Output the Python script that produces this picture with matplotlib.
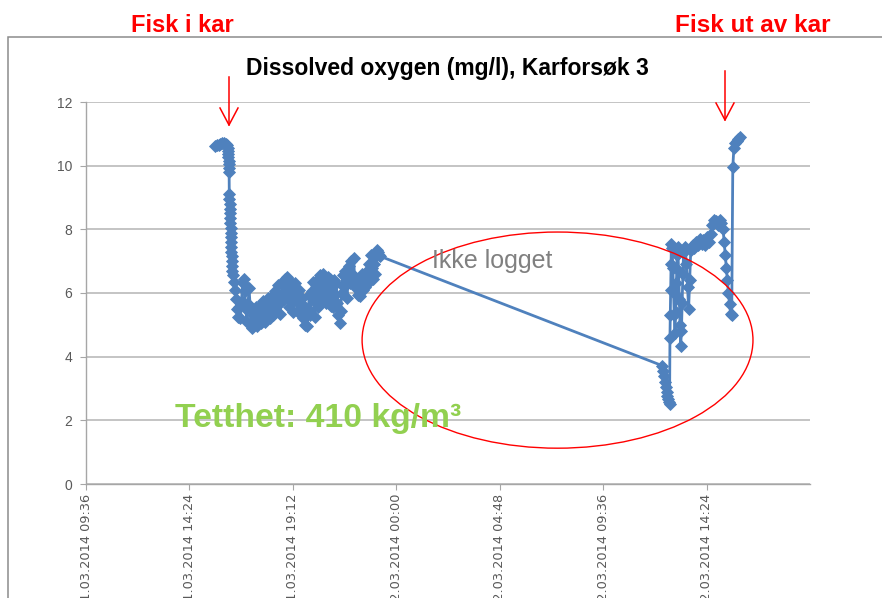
import matplotlib
matplotlib.use("Agg")
import matplotlib.pyplot as plt
import matplotlib.dates as mdates
from matplotlib.patches import Ellipse, Rectangle
from matplotlib.lines import Line2D
import pandas as pd

W, H = 882, 598
BLUE = "#4F81BD"

# målinger 11.03.2014 (fisk i kar -> logging stopper)
day1_times = [
    "15:35", "15:40", "15:45", "15:50", "15:55", "16:00", "16:05", "16:10",
    "16:11:00", "16:11:30", "16:12:00", "16:12:30", "16:13:00", "16:13:30", "16:14:00", "16:14:30",
    "16:15:00", "16:15:30", "16:16:00", "16:16:30", "16:17:00", "16:17:30", "16:18:00", "16:18:30",
    "16:19:00", "16:19:30", "16:20:00", "16:20:30", "16:21:00", "16:21:30", "16:22:00", "16:22:30",
    "16:23:00",
    "16:25", "16:28", "16:31", "16:34", "16:37", "16:40", "16:43", "16:46", "16:49", "16:52",
    "16:55", "16:58", "17:01", "17:04", "17:07", "17:10", "17:13", "17:16", "17:19", "17:22",
    "17:25", "17:28", "17:31", "17:34", "17:37", "17:40", "17:43", "17:46", "17:49", "17:52",
    "17:55", "17:58", "18:01", "18:04", "18:07", "18:10", "18:13", "18:16", "18:19", "18:22",
    "18:25", "18:28", "18:31", "18:34", "18:37", "18:40", "18:43", "18:46", "18:49", "18:52",
    "18:55", "18:58", "19:01", "19:04", "19:07", "19:10", "19:13", "19:16", "19:19", "19:22",
    "19:25", "19:28", "19:31", "19:34", "19:37", "19:40", "19:43", "19:46", "19:49", "19:52",
    "19:55", "19:58", "20:01", "20:04", "20:07", "20:10", "20:13", "20:16", "20:19", "20:22",
    "20:25", "20:28", "20:31", "20:34", "20:37", "20:40", "20:43", "20:46", "20:49", "20:52",
    "20:55", "20:58", "21:01", "21:04", "21:07", "21:10", "21:13", "21:16", "21:19", "21:22",
    "21:25", "21:28", "21:31", "21:34", "21:37", "21:40", "21:43", "21:46", "21:49", "21:52",
    "21:55", "21:58", "22:01", "22:04", "22:07", "22:10", "22:13", "22:16", "22:19", "22:22",
    "22:25", "22:28", "22:31", "22:34", "22:37", "22:40", "22:43", "22:46", "22:49", "22:52",
    "22:55", "22:58", "23:01", "23:04", "23:07", "23:10", "23:13", "23:16",
]
day1_do = [
    10.62, 10.64, 10.66, 10.68, 10.70, 10.70, 10.68, 10.64,
    10.55, 10.45, 10.36, 10.26, 10.15, 10.04, 9.92, 9.80,
    9.10, 8.95, 8.80, 8.65, 8.50, 8.35, 8.20, 8.05,
    7.90, 7.75, 7.60, 7.45, 7.30, 7.15, 7.00, 6.85,
    6.70,
    6.55, 6.35, 6.10, 5.80, 5.50, 5.25, 5.55, 5.20, 5.75, 6.30,
    6.45, 6.05, 5.50, 5.10, 5.65, 6.15, 5.60, 5.05, 4.90, 5.30,
    5.00, 5.55, 4.95, 5.40, 5.20, 5.60, 5.05, 5.45, 5.75, 5.25,
    5.10, 5.70, 5.35, 5.85, 5.20, 5.60, 5.90, 5.30, 5.75, 6.05,
    5.40, 5.95, 6.25, 5.65, 5.35, 5.90, 6.30, 5.80, 6.45, 6.10,
    6.50, 5.85, 5.55, 6.20, 6.35, 5.70, 5.40, 5.95, 6.30, 5.80,
    5.45, 6.10, 5.65, 5.30, 5.85, 5.20, 5.60, 5.00, 5.40, 4.95,
    5.50, 5.95, 5.30, 6.05, 6.35, 5.75, 5.25, 5.85, 6.40, 5.55,
    6.10, 6.55, 5.80, 6.30, 6.60, 5.95, 5.70, 6.25, 6.50, 5.90,
    6.45, 5.60, 6.20, 5.55, 6.40, 5.95, 6.30, 5.70, 5.30, 5.05,
    5.45, 6.00, 6.55, 6.20, 6.70, 6.35, 5.85, 6.50, 6.85, 6.30,
    7.00, 6.60, 7.10, 6.50, 6.15, 6.45, 5.95, 6.30, 5.90, 6.25,
    6.60, 6.10, 6.40, 6.20, 6.65, 6.30, 6.90, 6.55, 7.20, 6.80,
    6.45, 6.90, 6.60, 7.15, 7.35, 7.30, 7.20, 7.15,
]

# målinger 12.03.2014 (logging starter igjen -> fisk ut av kar)
day2_times = [
    "12:20", "12:23", "12:26", "12:29", "12:31", "12:33", "12:35", "12:37", "12:39", "12:41",
    "12:42", "12:43", "12:44", "12:45", "12:46", "12:48", "12:50", "12:52", "12:54", "12:56",
    "12:58", "13:00", "13:02", "13:04", "13:06", "13:08", "13:10", "13:12", "13:14", "13:16",
    "13:18", "13:20", "13:24", "13:28", "13:31", "13:34", "13:37", "13:40", "13:45", "13:50",
    "13:55", "14:00", "14:05", "14:10", "14:15", "14:20", "14:25", "14:30", "14:35", "14:40",
    "14:45", "14:50", "14:55", "15:00", "15:05", "15:10", "15:13", "15:16", "15:19", "15:22",
    "15:25", "15:28", "15:31", "15:34", "15:37", "15:40", "15:44", "15:48", "15:52", "15:56",
]
day2_do = [
    3.72, 3.55, 3.40, 3.20, 3.05, 2.90, 2.78, 2.66, 2.57, 2.50,
    4.60, 5.30, 6.10, 6.90, 7.55, 7.40, 6.80, 6.00, 5.30, 4.75,
    5.40, 6.30, 7.20, 7.45, 6.70, 5.80, 5.00, 4.35, 4.80, 5.70,
    6.60, 7.30, 7.45, 6.90, 6.20, 5.50, 6.40, 7.35, 7.50, 7.40,
    7.60, 7.50, 7.70, 7.55, 7.65, 7.50, 7.75, 7.60, 7.85, 8.15,
    8.30, 8.25, 8.15, 8.30, 8.20, 8.00, 7.60, 7.20, 6.80, 6.40,
    6.00, 5.65, 5.35, 5.30, 9.95, 10.55, 10.70, 10.78, 10.85, 10.90,
]

tick_times = ["2014-03-11 09:36", "2014-03-11 14:24", "2014-03-11 19:12", "2014-03-12 00:00",
              "2014-03-12 04:48", "2014-03-12 09:36", "2014-03-12 14:24"]
x_start, x_end = "2014-03-11 09:36", "2014-03-12 19:12"
y_ticks = [0, 2, 4, 6, 8, 10, 12]

times = pd.to_datetime(["2014-03-11 " + t for t in day1_times] + ["2014-03-12 " + t for t in day2_times],
                       format="mixed")
values = day1_do + day2_do


def fx(x):
    return x / W


def fy(y):
    return 1 - y / H


fig = plt.figure(figsize=(W / 100, H / 100), dpi=100)
fig.patch.set_facecolor("white")

# ramme rundt diagramomraadet
fig.patches.append(Rectangle((fx(8), -0.2), 1.2, fy(37) + 0.2, transform=fig.transFigure,
                             fill=False, ec="#8C8C8C", lw=1.1))

ax = fig.add_axes([fx(86), fy(484), fx(810) - fx(86), fy(102) - fy(484)])
ax.plot(times, values, color=BLUE, lw=2.0, marker="D", ms=6.6, mec=BLUE, mew=0.6, zorder=3)

ax.set_xlim(pd.Timestamp(x_start), pd.Timestamp(x_end))
ax.set_ylim(0, 12)
ax.set_yticks(y_ticks)
ax.set_xticks(pd.to_datetime(tick_times))
ax.xaxis.set_major_formatter(mdates.DateFormatter("%d.%m.%Y %H:%M"))
ax.grid(axis="y", color="#BFBFBF", lw=1.3)
ax.set_axisbelow(True)
for s in ["top", "right"]:
    ax.spines[s].set_visible(False)
for s in ["left", "bottom"]:
    ax.spines[s].set_color("#A6A6A6")
    ax.spines[s].set_linewidth(1.0)
ax.tick_params(axis="y", length=4, color="#A6A6A6", pad=6, labelsize=10, labelcolor="#595959")
ax.tick_params(axis="x", length=4, color="#A6A6A6", pad=3, labelsize=9.3, labelcolor="#595959",
               labelrotation=90)
for lab in ax.get_yticklabels():
    lab.set_family("Liberation Sans")

# rød ellipse rundt perioden uten logging
cx = mdates.date2num(pd.Timestamp("2014-03-12 07:29"))
ax.add_patch(Ellipse((cx, 4.52), width=18.14 / 24, height=6.79, fill=False, ec="red", lw=1.0, zorder=4))

fig.text(fx(447), fy(75), "Dissolved oxygen (mg/l), Karforsøk 3", ha="center", va="baseline",
         fontsize=16.5, fontweight="bold", family="Liberation Sans")
fig.text(fx(131), fy(32), "Fisk i kar", ha="left", va="baseline", color="red",
         fontsize=17, fontweight="bold", family="Liberation Sans")
fig.text(fx(675), fy(32), "Fisk ut av kar", ha="left", va="baseline", color="red",
         fontsize=17.5, fontweight="bold", family="Liberation Sans")
fig.text(fx(432), fy(268), "Ikke logget", ha="left", va="baseline", color="#808080",
         fontsize=18, family="Liberation Sans")
fig.text(fx(175), fy(427), "Tetthet: 410 kg/m³", ha="left", va="baseline", color="#92D050",
         fontsize=24.3, fontweight="bold", family="Liberation Sans")

# piler
for x0, y0, y1 in [(229, 77, 125), (725, 71, 120)]:
    fig.add_artist(Line2D([fx(x0), fx(x0)], [fy(y0), fy(y1)], transform=fig.transFigure, color="red", lw=1.1))
    fig.add_artist(Line2D([fx(x0 - 9), fx(x0), fx(x0 + 9)], [fy(y1 - 17), fy(y1), fy(y1 - 17)],
                          transform=fig.transFigure, color="red", lw=1.1))

fig.savefig("out.png", dpi=100)
